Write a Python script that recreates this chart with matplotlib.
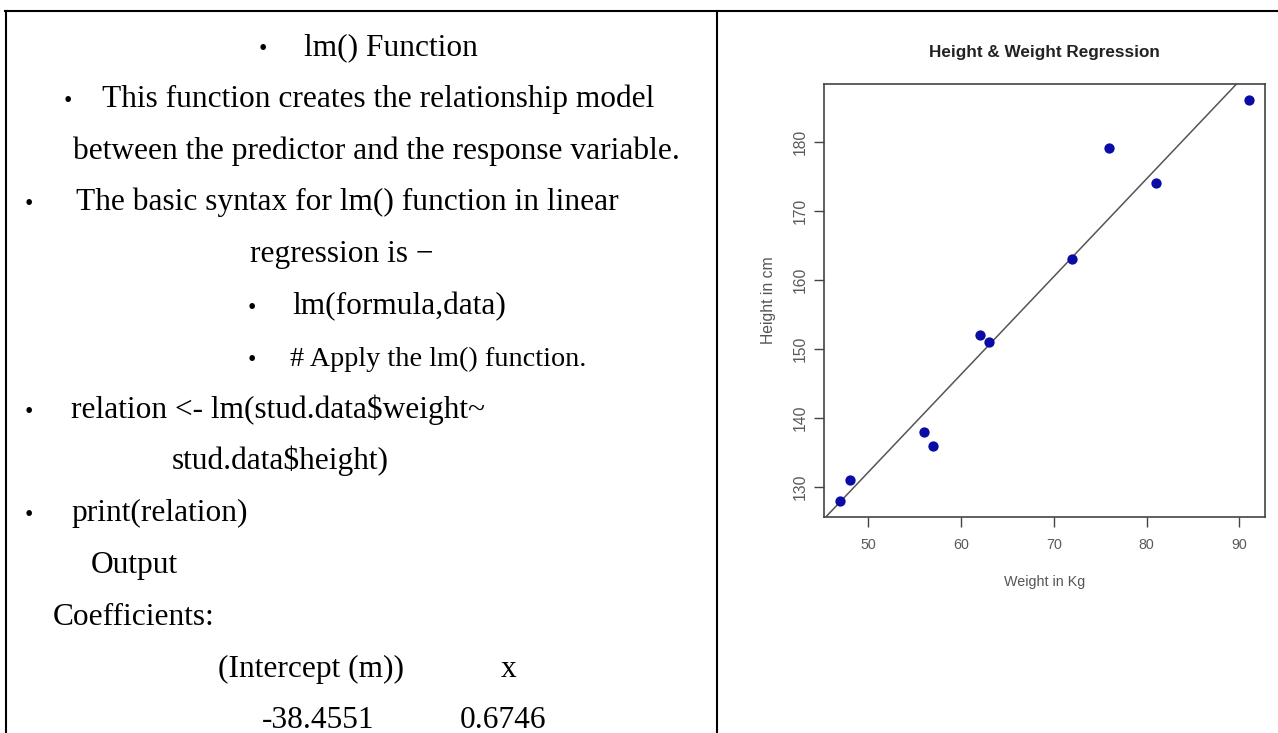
import matplotlib
matplotlib.use("Agg")
import matplotlib.pyplot as plt
import numpy as np
from matplotlib.lines import Line2D

# student data from the lm() example
weight = [63, 81, 56, 91, 47, 57, 76, 72, 62, 48]
height = [151, 174, 138, 186, 128, 136, 179, 163, 152, 131]
x_ticks = [50, 60, 70, 80, 90]
y_ticks = [130, 140, 150, 160, 170, 180]

# left column: (bullet centre x, text x, text, size factor) in px
lines = [
    (263, 304, "lm() Function", 1.0),
    (68, 102, "This function creates the relationship model", 1.0),
    (None, 73, "between the predictor and the response variable.", 1.0),
    (29, 76, "The basic syntax for lm() function in linear", 1.0),
    (None, 250, "regression is \u2212", 1.0),
    (252, 292, "lm(formula,data)", 1.0),
    (252, 290, "# Apply the lm() function.", 0.9),
    (29, 71, "relation <- lm(stud.data$weight~", 1.0),
    (None, 172, "stud.data$height)", 1.0),
    (29, 71, "print(relation)", 1.0),
    (None, 91, "Output", 1.0),
    (None, 53, "Coefficients:", 1.0),
]
coef_names = ["(Intercept (m))", "x"]
coef_values = ["-38.4551", "0.6746"]

W, H = 1278, 733
fig = plt.figure(figsize=(W / 100, H / 100), dpi=100)
fig.patch.set_facecolor("white")


def px(x, y):
    return x / W, 1 - y / H


# table borders
for xs, ys in [((5, 1278), (11, 11)), ((6, 6), (11, 733)), ((717, 717), (11, 733))]:
    fig.add_artist(Line2D([xs[0] / W, xs[1] / W], [1 - ys[0] / H, 1 - ys[1] / H],
                          color="black", lw=1.5, transform=fig.transFigure))

serif = "Liberation Serif"
fs = 22.6
y0, dy, off = 45, 51.8, 10
for i, (bx, tx, txt, k) in enumerate(lines):
    yb = y0 + dy * i + off
    if bx is not None:
        fig.text(*px(bx, yb), "\u2022", family=serif, fontsize=fs * 0.75,
                 va="baseline", ha="center")
    fig.text(*px(tx, yb), txt, family=serif, fontsize=fs * k, va="baseline")

yb = y0 + dy * 12 + off
fig.text(*px(218, yb), coef_names[0], family=serif, fontsize=fs, va="baseline")
fig.text(*px(501, yb), coef_names[1], family=serif, fontsize=fs, va="baseline")
yb = y0 + dy * 13 + off
fig.text(*px(262, yb), coef_values[0], family=serif, fontsize=fs, va="baseline")
fig.text(*px(460, yb), coef_values[1], family=serif, fontsize=fs, va="baseline")

# R style scatter plot with regression line
ax = fig.add_axes([824 / W, 1 - 517 / H, (1265 - 824) / W, (517 - 84) / H])
sans = "Liberation Sans"
ax.scatter(weight, height, s=55, color="#0b0ba6", zorder=3, linewidths=0)

m, b = np.polyfit(weight, height, 1)
xr = (min(weight) - 0.04 * (max(weight) - min(weight)),
      max(weight) + 0.04 * (max(weight) - min(weight)))
yr = (min(height) - 0.04 * (max(height) - min(height)),
      max(height) + 0.04 * (max(height) - min(height)))
ax.axline((0, b), slope=m, color="#555555", lw=1.1, zorder=2)
ax.set_xlim(xr)
ax.set_ylim(yr)

ax.set_xticks(x_ticks)
ax.set_yticks(y_ticks)
ax.set_xticklabels([str(t) for t in x_ticks], family=sans, fontsize=10.3, color="#5a5a5a")
ax.set_yticklabels([str(t) for t in y_ticks], family=sans, fontsize=11.3, color="#5a5a5a",
                   rotation=90, va="center")
ax.tick_params(axis="x", length=7, width=1.0, color="#444444", pad=8)
ax.tick_params(axis="y", length=7, width=1.0, color="#444444", pad=5)
for sp in ax.spines.values():
    sp.set_color("#444444")
    sp.set_linewidth(1.2)

fig.text(1044.5 / W, 1 - 53 / H, "Height & Weight Regression", family=sans,
         fontsize=12.3, fontweight="bold", color="#222222", ha="center", va="center")
fig.text(1044.5 / W, 1 - 582 / H, "Weight in Kg", family=sans, fontsize=10.3,
         color="#555555", ha="center", va="center")
fig.text(768 / W, 1 - 300.5 / H, "Height in cm", family=sans, fontsize=11.3,
         color="#555555", ha="center", va="center", rotation=90)

fig.savefig("out.png", dpi=100)
